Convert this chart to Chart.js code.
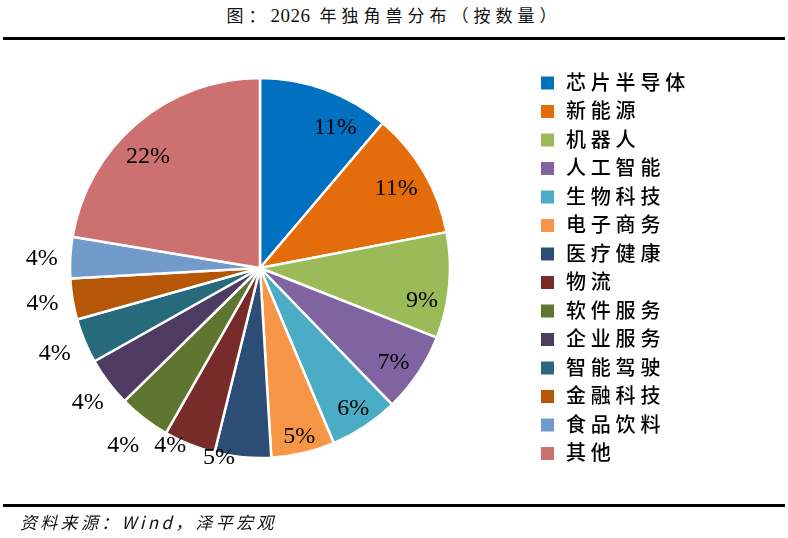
<!DOCTYPE html>
<html>
<head>
<meta charset="utf-8">
<script src="https://cdn.jsdelivr.net/npm/chart.js@4/dist/chart.umd.min.js"></script>
<style>
body{margin:0;background:#fff;width:788px;height:538px;position:relative;overflow:hidden;font-family:"Noto Sans CJK SC",sans-serif}
#pie{position:absolute;left:0;top:0}
.title{position:absolute;left:0;width:788px;top:4px;text-align:center;font-size:17px;line-height:22px;letter-spacing:5px;color:#111}
.title span{letter-spacing:0.5px;font-family:"Liberation Serif",serif;font-size:19px}
.rule{position:absolute;left:3px;width:782px;height:3px;background:#000}
.src{position:absolute;left:20px;top:511px;font-size:17px;line-height:22px;letter-spacing:3.3px;font-style:italic;color:#111}
</style>
</head>
<body>
<div class="title">图：<span>2026</span> 年独角兽分布（按数量）</div>
<div class="rule" style="top:37px"></div>
<canvas id="pie" width="788" height="538"></canvas>
<div class="rule" style="top:504px"></div>
<div class="src">资料来源：Wind，泽平宏观</div>
<script>
// 分类与占比（%），按图中顺时针顺序
categories = ["芯片半导体", "新能源", "机器人", "人工智能", "生物科技", "电子商务", "医疗健康",
              "物流", "软件服务", "企业服务", "智能驾驶", "金融科技", "食品饮料", "其他"]
shares = [11.2, 10.8, 9.0, 6.8, 5.9, 5.4, 4.8, 4.4, 4.4, 4.2, 3.8, 3.5, 3.5, 22.4]
colores = ["#0070C0", "#E46C0A", "#9BBB59", "#8064A2", "#4BACC6", "#F79646", "#2C4D75",
           "#772C2A", "#5F7530", "#4D3B62", "#276A7C", "#B65708", "#729ACA", "#CD7070"]

// 标签微调：[角度偏移(度), 半径倍数]
labelNudge = [[8, 0.84], [0, 0.83], [6, 0.87], [1.5, 0.86], [0, 0.89], [0, 0.91], [7, 1.02],
              [5, 1.05], [0, 1.18], [-1, 1.15], [0, 1.17], [0, 1.16], [-0.6, 1.15], [-5, 0.83]]

var extras = {
	id: 'extras',
	afterDatasetsDraw: function(chart) {
		var ctx = chart.ctx;
		var arcs = chart.getDatasetMeta(0).data;
		ctx.save();
		ctx.font = '24px "Liberation Serif"';
		ctx.fillStyle = '#000';
		ctx.textAlign = 'center';
		ctx.textBaseline = 'middle';
		arcs.forEach(function(arc, i) {
			var p = arc.getProps(['x', 'y', 'startAngle', 'endAngle', 'outerRadius'], true);
			var a = (p.startAngle + p.endAngle) / 2 + labelNudge[i][0] * Math.PI / 180;
			var r = p.outerRadius * labelNudge[i][1];
			ctx.fillText(Math.round(shares[i]) + '%', p.x + r * Math.cos(a), p.y + r * Math.sin(a));
		});
		ctx.restore();
	},
	afterDraw: function(chart) {
		var ctx = chart.ctx;
		ctx.save();
		ctx.font = '500 20px "Noto Sans CJK SC"';
		ctx.letterSpacing = '4.8px';
		ctx.textBaseline = 'middle';
		chart.data.labels.forEach(function(lab, i) {
			var y = 83 + 28.5 * i;
			ctx.fillStyle = colores[i];
			ctx.fillRect(541, y - 6.5, 13, 13);
			ctx.fillStyle = '#000';
			ctx.fillText(lab, 566, y - 1);
		});
		ctx.restore();
	}
};

new Chart(document.getElementById('pie').getContext('2d'), {
	type: 'pie',
	data: {
		labels: categories,
		datasets: [{
			data: shares,
			backgroundColor: colores,
			borderColor: '#fff',
			borderWidth: 2.5,
			radius: 190
		}]
	},
	options: {
		responsive: false,
		animation: false,
		layout: {padding: {left: 0, right: 268, top: 60, bottom: 62}},
		plugins: {legend: {display: false}, tooltip: {enabled: false}}
	},
	plugins: [extras]
});
</script>
</body>
</html>
